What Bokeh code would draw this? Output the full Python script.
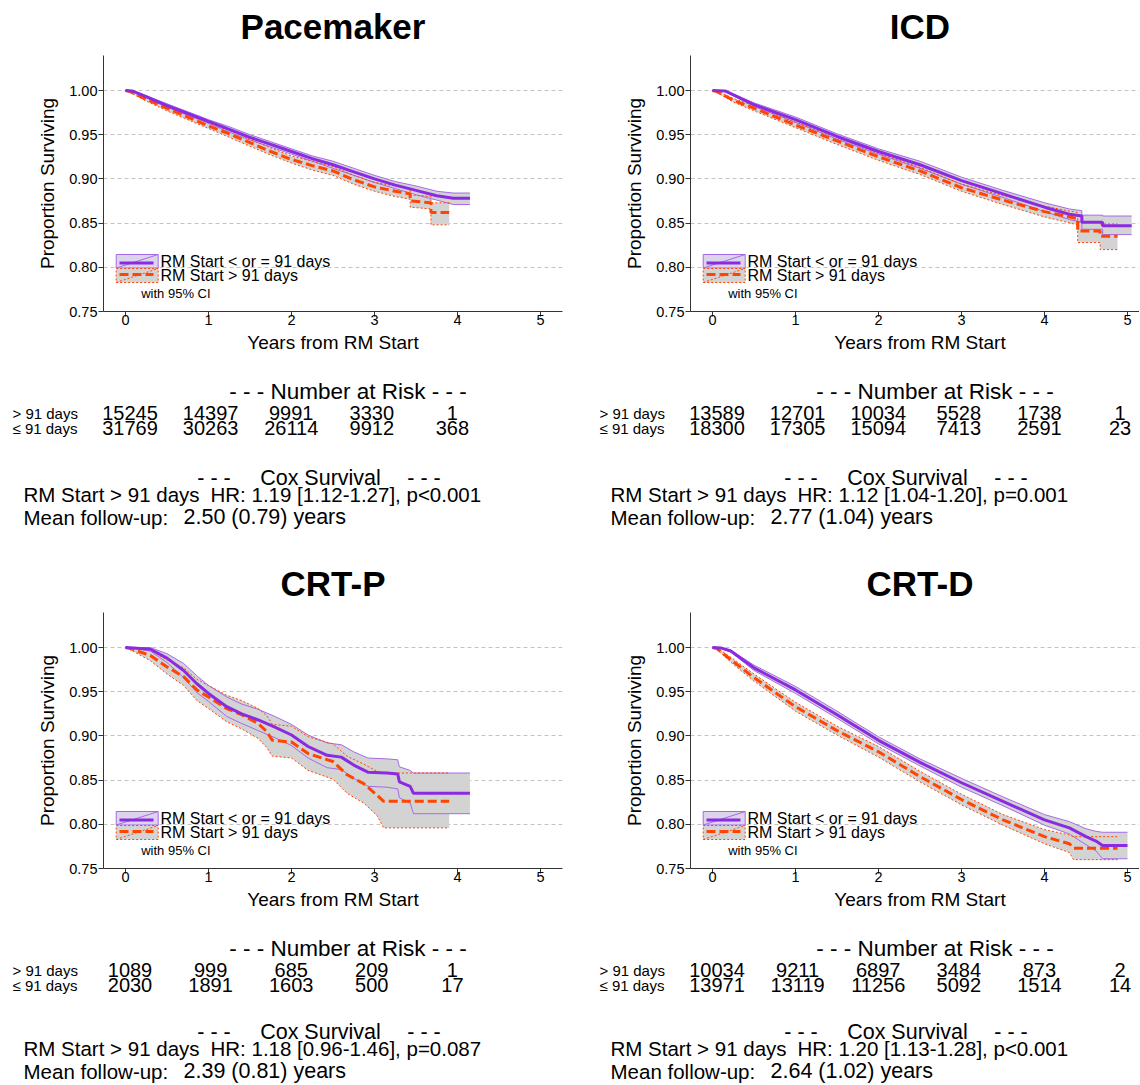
from bokeh.plotting import figure
from bokeh.models import Range1d, FixedTicker, NumeralTickFormatter
from bokeh.layouts import column, row
from bokeh.core.properties import value
from bokeh.embed import file_html
from bokeh.resources import INLINE

# ---------------------------------------------------------------- data
TITLES = ["Pacemaker", "ICD", "CRT-P", "CRT-D"]
LABEL_LE = "RM Start < or = 91 days"
LABEL_GT = "RM Start > 91 days"
ROW_LABELS = ["> 91 days", "\u2264 91 days"]
X_TICKS = [0, 1, 2, 3, 4, 5]
Y_TICKS = [0.75, 0.80, 0.85, 0.90, 0.95, 1.00]

# Pacemaker
PM_LE_T = [0, 0.08, 0.25, 0.5, 0.75, 1.0, 1.25, 1.5, 1.75, 2.0, 2.25, 2.5, 2.75, 3.0, 3.25, 3.5, 3.75, 3.95, 4.15]
PM_LE_S = [1.000, 0.9995, 0.993, 0.983, 0.974, 0.965, 0.956, 0.947, 0.939, 0.931, 0.923, 0.916, 0.908, 0.900, 0.893, 0.887, 0.881, 0.878, 0.878]
PM_LE_LO = [1.000, 0.999, 0.992, 0.981, 0.972, 0.963, 0.953, 0.944, 0.936, 0.928, 0.920, 0.912, 0.904, 0.896, 0.889, 0.882, 0.876, 0.871, 0.871]
PM_LE_HI = [1.000, 1.000, 0.994, 0.985, 0.976, 0.967, 0.959, 0.950, 0.942, 0.934, 0.926, 0.920, 0.912, 0.904, 0.897, 0.892, 0.886, 0.884, 0.884]
PM_GT_T = [0, 0.05, 0.25, 0.5, 0.75, 1.0, 1.25, 1.5, 1.75, 2.0, 2.25, 2.5, 2.75, 3.0, 3.25, 3.43, 3.43, 3.68, 3.68, 3.9]
PM_GT_S = [1.000, 0.999, 0.990, 0.980, 0.970, 0.960, 0.951, 0.941, 0.931, 0.922, 0.915, 0.909, 0.899, 0.891, 0.886, 0.883, 0.875, 0.873, 0.862, 0.862]
PM_GT_LO = [1.000, 0.998, 0.988, 0.977, 0.967, 0.957, 0.947, 0.937, 0.927, 0.918, 0.910, 0.904, 0.894, 0.886, 0.880, 0.877, 0.868, 0.866, 0.848, 0.848]
PM_GT_HI = [1.000, 1.000, 0.992, 0.983, 0.973, 0.963, 0.955, 0.945, 0.935, 0.926, 0.920, 0.914, 0.904, 0.896, 0.892, 0.889, 0.882, 0.880, 0.873, 0.873]
PM_RISK_T = [0, 1, 2, 3, 4]
PM_RISK_GT = [15245, 14397, 9991, 3330, 1]
PM_RISK_LE = [31769, 30263, 26114, 9912, 368]
PM_HR = "HR: 1.19 [1.12-1.27], p<0.001"
PM_FU = "2.50 (0.79) years"

# ICD
ICD_LE_T = [0, 0.15, 0.5, 1.0, 1.5, 2.0, 2.5, 3.0, 3.5, 4.0, 4.3, 4.45, 4.45, 4.7, 4.7, 5.05]
ICD_LE_S = [1.000, 0.9995, 0.984, 0.967, 0.948, 0.931, 0.916, 0.898, 0.883, 0.868, 0.860, 0.858, 0.851, 0.851, 0.847, 0.847]
ICD_LE_LO = [1.000, 0.999, 0.982, 0.964, 0.945, 0.928, 0.912, 0.894, 0.879, 0.863, 0.854, 0.851, 0.843, 0.843, 0.837, 0.837]
ICD_LE_HI = [1.000, 1.000, 0.986, 0.970, 0.951, 0.934, 0.920, 0.902, 0.887, 0.873, 0.866, 0.864, 0.859, 0.859, 0.858, 0.858]
ICD_GT_T = [0, 0.05, 0.25, 0.5, 1.0, 1.5, 2.0, 2.5, 3.0, 3.5, 4.0, 4.4, 4.4, 4.67, 4.67, 4.88]
ICD_GT_S = [1.000, 0.999, 0.989, 0.980, 0.961, 0.943, 0.925, 0.909, 0.890, 0.876, 0.863, 0.855, 0.841, 0.841, 0.835, 0.835]
ICD_GT_LO = [1.000, 0.998, 0.987, 0.977, 0.958, 0.939, 0.921, 0.905, 0.886, 0.871, 0.857, 0.848, 0.828, 0.828, 0.820, 0.820]
ICD_GT_HI = [1.000, 1.000, 0.991, 0.983, 0.964, 0.947, 0.929, 0.913, 0.894, 0.881, 0.869, 0.862, 0.851, 0.851, 0.849, 0.849]
ICD_RISK_T = [0, 1, 2, 3, 4, 5]
ICD_RISK_GT = [13589, 12701, 10034, 5528, 1738, 1]
ICD_RISK_LE = [18300, 17305, 15094, 7413, 2591, 23]
ICD_HR = "HR: 1.12 [1.04-1.20], p=0.001"
ICD_FU = "2.77 (1.04) years"

# CRT-P
CRTP_LE_T = [0, 0.1, 0.3, 0.5, 0.7, 0.86, 1.0, 1.22, 1.4, 1.6, 1.8, 2.0, 2.2, 2.43, 2.6, 2.75, 2.92, 3.15, 3.28, 3.3, 3.43, 3.47, 4.15]
CRTP_LE_S = [1.000, 0.9995, 0.998, 0.988, 0.974, 0.959, 0.948, 0.933, 0.925, 0.918, 0.910, 0.901, 0.888, 0.878, 0.876, 0.867, 0.859, 0.858, 0.857, 0.848, 0.843, 0.835, 0.835]
CRTP_LE_LO = [1.000, 0.999, 0.996, 0.983, 0.966, 0.949, 0.939, 0.922, 0.914, 0.906, 0.898, 0.889, 0.875, 0.864, 0.862, 0.852, 0.843, 0.842, 0.840, 0.830, 0.824, 0.812, 0.812]
CRTP_LE_HI = [1.000, 1.000, 1.000, 0.993, 0.982, 0.968, 0.957, 0.944, 0.936, 0.930, 0.922, 0.913, 0.901, 0.892, 0.890, 0.882, 0.875, 0.874, 0.873, 0.865, 0.861, 0.858, 0.858]
CRTP_GT_T = [0, 0.05, 0.3, 0.5, 0.7, 0.86, 1.0, 1.22, 1.4, 1.6, 1.7, 1.77, 2.0, 2.2, 2.5, 2.67, 2.87, 3.03, 3.11, 3.9]
CRTP_GT_S = [1.000, 0.999, 0.991, 0.978, 0.967, 0.952, 0.944, 0.931, 0.924, 0.914, 0.905, 0.895, 0.893, 0.880, 0.871, 0.856, 0.846, 0.833, 0.826, 0.826]
CRTP_GT_LO = [1.000, 0.998, 0.985, 0.970, 0.957, 0.940, 0.931, 0.916, 0.908, 0.897, 0.887, 0.877, 0.875, 0.861, 0.851, 0.835, 0.824, 0.810, 0.796, 0.796]
CRTP_GT_HI = [1.000, 1.000, 0.997, 0.986, 0.977, 0.964, 0.957, 0.946, 0.940, 0.931, 0.923, 0.913, 0.911, 0.899, 0.891, 0.877, 0.868, 0.860, 0.858, 0.858]
CRTP_RISK_T = [0, 1, 2, 3, 4]
CRTP_RISK_GT = [1089, 999, 685, 209, 1]
CRTP_RISK_LE = [2030, 1891, 1603, 500, 17]
CRTP_HR = "HR: 1.18 [0.96-1.46], p=0.087"
CRTP_FU = "2.39 (0.81) years"

# CRT-D
CRTD_LE_T = [0, 0.1, 0.22, 0.5, 1.0, 1.5, 2.0, 2.5, 3.0, 3.5, 4.0, 4.3, 4.5, 4.62, 4.7, 5.0]
CRTD_LE_S = [1.000, 0.9995, 0.996, 0.977, 0.952, 0.924, 0.895, 0.870, 0.847, 0.826, 0.805, 0.796, 0.786, 0.781, 0.776, 0.776]
CRTD_LE_LO = [1.000, 0.999, 0.995, 0.974, 0.948, 0.920, 0.891, 0.866, 0.842, 0.821, 0.799, 0.789, 0.777, 0.770, 0.761, 0.761]
CRTD_LE_HI = [1.000, 1.000, 0.997, 0.980, 0.956, 0.928, 0.899, 0.874, 0.852, 0.831, 0.811, 0.803, 0.795, 0.792, 0.791, 0.791]
CRTD_GT_T = [0, 0.05, 0.25, 0.5, 1.0, 1.5, 2.0, 2.5, 3.0, 3.5, 4.0, 4.3, 4.35, 4.88]
CRTD_GT_S = [1.000, 0.999, 0.984, 0.966, 0.933, 0.906, 0.882, 0.854, 0.828, 0.805, 0.786, 0.778, 0.773, 0.773]
CRTD_GT_LO = [1.000, 0.998, 0.981, 0.962, 0.928, 0.901, 0.876, 0.848, 0.822, 0.799, 0.778, 0.768, 0.760, 0.760]
CRTD_GT_HI = [1.000, 1.000, 0.987, 0.970, 0.938, 0.911, 0.888, 0.860, 0.834, 0.811, 0.794, 0.788, 0.786, 0.786]
CRTD_RISK_T = [0, 1, 2, 3, 4, 5]
CRTD_RISK_GT = [10034, 9211, 6897, 3484, 873, 2]
CRTD_RISK_LE = [13971, 13119, 11256, 5092, 1514, 14]
CRTD_HR = "HR: 1.20 [1.13-1.28], p<0.001"
CRTD_FU = "2.64 (1.02) years"

# ---------------------------------------------------------------- style
FONT = "Liberation Sans"
PURPLE = "#8a2be2"
PURPLE_CI = "#a56ae8"
ORANGE = "#ff4500"
BAND = "#d3d3d3"
AXIS = "#333333"

PPY = 83.0          # pixels per year on the survival axes
X_LEFT = -0.265     # x value at the frame's left edge
FRAME_L = 103       # frame left edge, in panel pixels
FRAME_H = 256
PLOT_H = 276
HEAD_H = 55
RISK_X0 = 129.5     # panel pixel of the first number-at-risk column
RISK_STEP = 80.6    # pixels between number-at-risk columns


def xd(rel):
    return X_LEFT + (rel - FRAME_L) / PPY


def yd(y):
    return 1.0 - (y - 90.0) / 884.0


def no_align(f):
    if "frame_align" in f.properties():
        f.frame_align = False
    return f


def txt(fig, xs, ys, texts, size, align="left", style="normal", color="black"):
    # ys give the vertical middle of the letters
    fig.text(x=xs, y=ys, text=texts, text_font=value(FONT),
             text_font_size=value(size), text_align=align,
             text_baseline="middle", text_font_style=style,
             text_color=color)


def blank(width, height):
    f = figure(width=width, height=height,
               x_range=Range1d(xd(0), xd(width)),
               y_range=Range1d(0, height),
               x_axis_type=None, y_axis_type=None, title=None,
               min_border=0, min_border_left=0, min_border_right=0,
               min_border_top=0, min_border_bottom=0,
               toolbar_location=None, output_backend="svg")
    f.outline_line_color = None
    return no_align(f)


def make_panel(title, le, gt, risk_t, risk_gt, risk_le, hr, fu,
               width, right_border, text_h, cox_shift):
    # title strip (y measured from the top of the strip)
    h = blank(width, HEAD_H)
    txt(h, [2.5], [HEAD_H - 26], [title], "35px", align="center", style="bold")

    # survival plot
    frame_right = width - right_border
    p = figure(width=width, height=PLOT_H,
               x_range=Range1d(xd(FRAME_L), xd(frame_right)),
               y_range=Range1d(0.75, yd(55)),
               title=None, min_border_left=FRAME_L,
               min_border_right=right_border, min_border_top=0,
               min_border_bottom=PLOT_H - FRAME_H,
               toolbar_location=None, output_backend="svg")
    no_align(p)
    p.outline_line_color = None
    p.xgrid.visible = False
    p.ygrid.grid_line_color = "#c4c4c4"
    p.ygrid.grid_line_dash = "4 3"
    p.xaxis.ticker = FixedTicker(ticks=X_TICKS)
    p.yaxis.ticker = FixedTicker(ticks=Y_TICKS)
    p.yaxis.formatter = NumeralTickFormatter(format="0.00")
    p.axis.minor_tick_line_color = None
    p.axis.major_tick_in = 0
    p.axis.major_tick_out = 5
    p.axis.axis_line_color = AXIS
    p.axis.major_tick_line_color = AXIS
    p.axis.major_label_text_font = FONT
    p.axis.major_label_text_font_size = "14.5px"
    p.axis.major_label_text_color = "black"
    p.xaxis.major_label_standoff = -2
    p.yaxis.major_label_standoff = 1
    p.yaxis.axis_label = "Proportion Surviving"
    p.yaxis.axis_label_text_font = FONT
    p.yaxis.axis_label_text_font_size = "19px"
    p.yaxis.axis_label_text_font_style = "normal"
    p.yaxis.axis_label_text_color = "black"
    p.yaxis.axis_label_standoff = 8

    le_t, le_s, le_lo, le_hi = le
    gt_t, gt_s, gt_lo, gt_hi = gt
    p.varea(x=le_t, y1=le_lo, y2=le_hi, fill_color=BAND)
    p.varea(x=gt_t, y1=gt_lo, y2=gt_hi, fill_color=BAND)
    p.line(le_t, le_lo, line_color=PURPLE_CI, line_width=1)
    p.line(le_t, le_hi, line_color=PURPLE_CI, line_width=1)
    p.line(gt_t, gt_lo, line_color=ORANGE, line_width=1, line_dash="2 2")
    p.line(gt_t, gt_hi, line_color=ORANGE, line_width=1, line_dash="2 2")
    p.line(gt_t, gt_s, line_color=ORANGE, line_width=3, line_dash="9 4")
    p.line(le_t, le_s, line_color=PURPLE, line_width=3)

    # legend keys
    kx0, kx1 = xd(115.7), xd(157.7)
    p.quad(left=[kx0], right=[kx1], top=[yd(254)], bottom=[yd(267.5)],
           fill_color="#dcd4ea", line_color=PURPLE_CI, line_width=1)
    p.quad(left=[kx0], right=[kx1], top=[yd(268)], bottom=[yd(282)],
           fill_color=BAND, line_color=ORANGE, line_width=1, line_dash="2 2")
    p.segment(x0=[kx0], y0=[yd(267.5)], x1=[kx1], y1=[yd(254)],
              line_color=PURPLE_CI, line_width=1)
    p.segment(x0=[kx0], y0=[yd(282)], x1=[kx1], y1=[yd(268)],
              line_color=ORANGE, line_width=1, line_dash="2 2")
    p.segment(x0=[xd(119)], y0=[yd(262.5)], x1=[xd(153)], y1=[yd(262.5)],
              line_color=PURPLE, line_width=3)
    p.segment(x0=[xd(119)], y0=[yd(274)], x1=[xd(153)], y1=[yd(274)],
              line_color=ORANGE, line_width=3, line_dash="9 4")
    txt(p, [xd(160)], [yd(260.5)], [LABEL_LE], "16px")
    txt(p, [xd(160)], [yd(274.7)], [LABEL_GT], "16px")
    txt(p, [xd(140.7)], [yd(293)], ["with 95% CI"], "13px")

    # text below: axis title, numbers at risk, Cox summary
    y0 = HEAD_H + PLOT_H
    t = blank(width, text_h)
    ty = lambda y: text_h - (y - y0)
    cy = lambda y: text_h - (y - y0 + cox_shift)
    txt(t, [2.5], [ty(342)], ["Years from RM Start"], "19px", align="center")
    txt(t, [xd(347.5)], [ty(390.8)], ["- - - Number at Risk - - -"], "22.5px", align="center")
    txt(t, [xd(12), xd(12)], [ty(413), ty(428)], ROW_LABELS, "15px")
    n = len(risk_t)
    rx = [xd(RISK_X0) + v * RISK_STEP / PPY for v in risk_t]
    txt(t, rx, [ty(412.5)] * n, [str(v) for v in risk_gt], "20px", align="center")
    txt(t, rx, [ty(427.5)] * n, [str(v) for v in risk_le], "20px", align="center")
    txt(t, [xd(213.5), xd(423.5)], [cy(477.5), cy(477.5)], ["- - -", "- - -"], "21.5px", align="center")
    txt(t, [xd(320)], [cy(477.5)], ["Cox Survival"], "21.5px", align="center")
    txt(t, [xd(23)], [cy(493.7)], [LABEL_GT], "20.5px")
    txt(t, [xd(210)], [cy(493.7)], [hr], "20.5px")
    txt(t, [xd(23)], [cy(516.7)], ["Mean follow-up:"], "20.5px")
    txt(t, [xd(183)], [cy(516.7)], [fu], "21.5px")
    return [h, p, t]


LEFT_W, RIGHT_W = 587, 552
TOP_ROW_H, BOTTOM_ROW_H = 557, 527
TOP_TEXT_H = TOP_ROW_H - HEAD_H - PLOT_H
BOTTOM_TEXT_H = BOTTOM_ROW_H - HEAD_H - PLOT_H

tl = make_panel(TITLES[0], (PM_LE_T, PM_LE_S, PM_LE_LO, PM_LE_HI),
                (PM_GT_T, PM_GT_S, PM_GT_LO, PM_GT_HI),
                PM_RISK_T, PM_RISK_GT, PM_RISK_LE, PM_HR, PM_FU,
                width=LEFT_W, right_border=25, text_h=TOP_TEXT_H, cox_shift=0)
tr = make_panel(TITLES[1], (ICD_LE_T, ICD_LE_S, ICD_LE_LO, ICD_LE_HI),
                (ICD_GT_T, ICD_GT_S, ICD_GT_LO, ICD_GT_HI),
                ICD_RISK_T, ICD_RISK_GT, ICD_RISK_LE, ICD_HR, ICD_FU,
                width=RIGHT_W, right_border=0, text_h=TOP_TEXT_H, cox_shift=0)
bl = make_panel(TITLES[2], (CRTP_LE_T, CRTP_LE_S, CRTP_LE_LO, CRTP_LE_HI),
                (CRTP_GT_T, CRTP_GT_S, CRTP_GT_LO, CRTP_GT_HI),
                CRTP_RISK_T, CRTP_RISK_GT, CRTP_RISK_LE, CRTP_HR, CRTP_FU,
                width=LEFT_W, right_border=25, text_h=BOTTOM_TEXT_H, cox_shift=-3)
br = make_panel(TITLES[3], (CRTD_LE_T, CRTD_LE_S, CRTD_LE_LO, CRTD_LE_HI),
                (CRTD_GT_T, CRTD_GT_S, CRTD_GT_LO, CRTD_GT_HI),
                CRTD_RISK_T, CRTD_RISK_GT, CRTD_RISK_LE, CRTD_HR, CRTD_FU,
                width=RIGHT_W, right_border=0, text_h=BOTTOM_TEXT_H, cox_shift=-3)

layout = row(column(*tl, *bl), column(*tr, *br))

with open("out.html", "w") as fh:
    fh.write(file_html(layout, INLINE))
